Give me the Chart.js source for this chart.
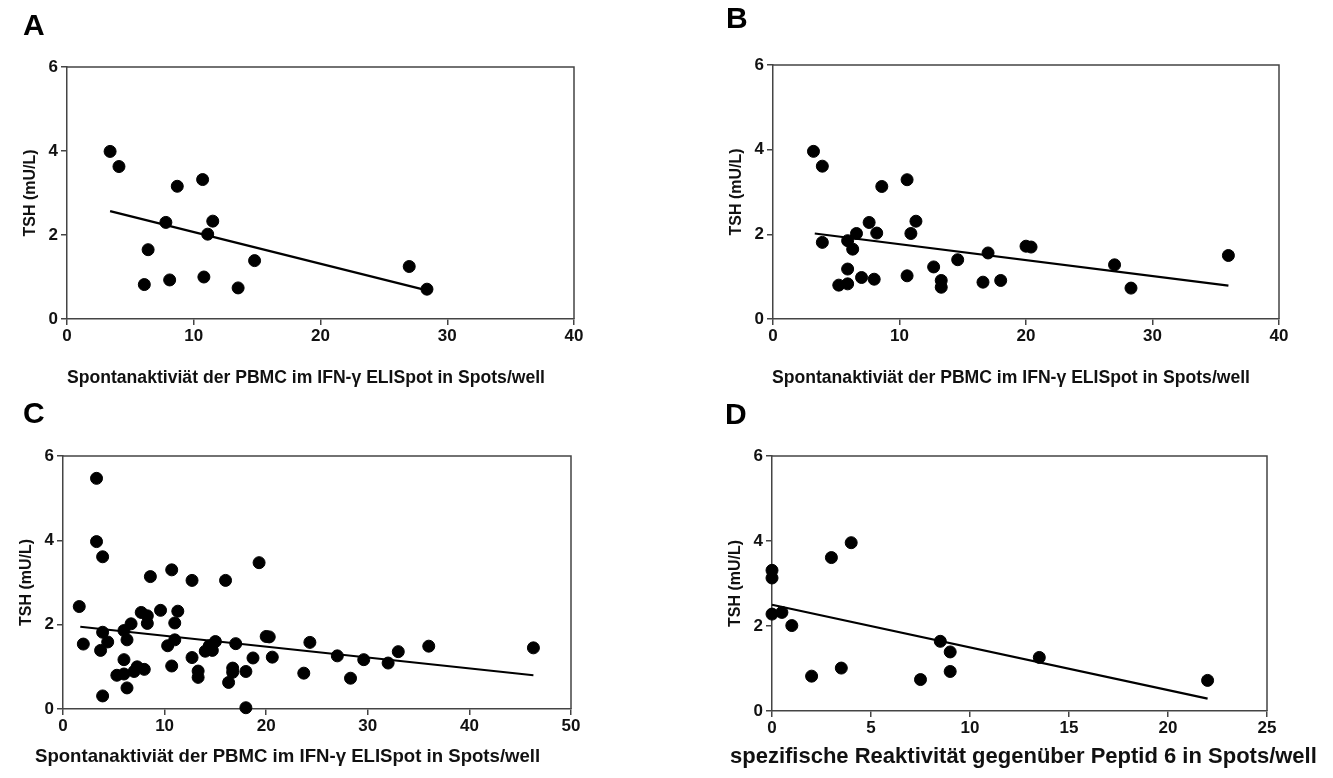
<!DOCTYPE html>
<html>
<head>
<meta charset="utf-8">
<script src="https://cdn.jsdelivr.net/npm/chart.js@4.4.1/dist/chart.umd.min.js"></script>
<style>
  html, body { margin: 0; padding: 0; background: #fff; }
  body { width: 1333px; height: 778px; position: relative; overflow: hidden; }
  canvas { position: absolute; }
</style>
</head>
<body>
<canvas id="chartA" width="666" height="389" style="left:0;top:0"></canvas>
<canvas id="chartB" width="667" height="389" style="left:666px;top:0"></canvas>
<canvas id="chartC" width="666" height="389" style="left:0;top:389px"></canvas>
<canvas id="chartD" width="667" height="389" style="left:666px;top:389px"></canvas>
<script>
// Werte
const yTicks = [0, 2, 4, 6];
const titleSpont = 'Spontanaktiviät der PBMC im IFN-γ ELISpot in Spots/well';
const titlePeptid = 'spezifische Reaktivität gegenüber Peptid 6 in Spots/well';
const yTitle = 'TSH (mU/L)';

// A
const aX = [3.4, 4.1, 8.7, 10.7, 7.8, 11.5, 11.1, 6.4, 6.1, 8.1, 10.8, 13.5, 14.8, 27.0, 28.4];
const aY = [3.99, 3.63, 3.16, 3.32, 2.30, 2.33, 2.02, 1.65, 0.82, 0.93, 1.00, 0.74, 1.39, 1.25, 0.71];
const aFitX = [3.4, 28.4];
const aFitY = [2.57, 0.68];

// B
const bX = [3.2, 3.9, 8.6, 10.6, 7.6, 11.3, 8.2, 10.9, 6.6, 5.9, 3.9, 6.3, 5.9, 5.2, 5.9, 7.0, 8.0, 10.6,
    12.7, 13.3, 13.3, 14.6, 17.0, 16.6, 18.0, 20.0, 20.4, 27.0, 28.3, 36.0];
const bY = [3.96, 3.61, 3.13, 3.29, 2.28, 2.31, 2.03, 2.02, 2.02, 1.85, 1.81, 1.65, 1.18, 0.80, 0.83, 0.98, 0.94, 1.02,
    1.23, 0.91, 0.75, 1.40, 1.56, 0.87, 0.91, 1.72, 1.70, 1.28, 0.73, 1.50];
const bFitX = [3.3, 36.0];
const bFitY = [2.02, 0.79];

// C
const cX = [3.3, 3.3, 3.9, 8.6, 10.7, 12.7, 16.0, 19.3, 1.6, 2.0, 3.7, 3.9, 4.4, 3.9, 6.0, 6.7, 6.3, 6.0, 5.3, 6.0,
    6.3, 7.0, 7.3, 8.0, 7.7, 8.3, 8.3, 9.6, 10.3, 11.0, 11.0, 10.7, 11.3, 12.7, 13.3, 13.3, 14.0, 14.7, 14.4, 15.0,
    16.3, 16.7, 16.7, 17.0, 18.0, 18.0, 18.7, 20.0, 20.3, 20.6, 23.7, 24.3, 27.0, 28.3, 29.6, 32.0, 33.0, 36.0, 46.3];
const cY = [5.47, 3.97, 3.61, 3.14, 3.30, 3.05, 3.05, 3.47, 2.43, 1.54, 1.39, 1.82, 1.59, 0.31, 1.86, 2.02, 1.64, 1.17, 0.80, 0.83,
    0.50, 0.89, 1.00, 0.94, 2.29, 2.21, 2.03, 2.34, 1.50, 2.04, 1.64, 1.02, 2.32, 1.22, 0.90, 0.75, 1.37, 1.39, 1.50, 1.60,
    0.63, 0.97, 0.87, 1.55, 0.89, 0.03, 1.21, 1.72, 1.71, 1.23, 0.85, 1.58, 1.26, 0.73, 1.17, 1.09, 1.36, 1.49, 1.45];
const cFitX = [1.7, 46.3];
const cFitY = [1.95, 0.80];

// D
const dX = [0, 0, 0, 0.5, 1.0, 3.0, 4.0, 2.0, 3.5, 7.5, 8.5, 9.0, 9.0, 13.5, 22.0];
const dY = [3.31, 3.13, 2.28, 2.32, 2.01, 3.61, 3.96, 0.82, 1.01, 0.74, 1.64, 1.39, 0.93, 1.26, 0.72];
const dFitX = [0, 22.0];
const dFitY = [2.50, 0.29];

const FONT = '"Liberation Sans", Arial, Helvetica, sans-serif';
const AXIS_COLOR = '#444';

Chart.defaults.font.family = FONT;
Chart.defaults.font.weight = 'bold';
Chart.defaults.color = '#111';

// Rahmen oben/rechts, Buchstabe und x-Titel
const panelPlugin = {
    id: 'panel',
    beforeDatasetsDraw(chart) {
        const { ctx, chartArea: a } = chart;
        ctx.save();
        ctx.strokeStyle = AXIS_COLOR;
        ctx.lineWidth = 1.5;
        ctx.beginPath();
        ctx.moveTo(a.left, a.top);
        ctx.lineTo(a.right, a.top);
        ctx.lineTo(a.right, a.bottom);
        ctx.stroke();
        ctx.restore();
    },
    afterDraw(chart, args, opts) {
        const ctx = chart.ctx;
        ctx.save();
        ctx.fillStyle = '#000';
        ctx.textAlign = 'left';
        ctx.textBaseline = 'alphabetic';
        ctx.font = 'bold 30px ' + FONT;
        ctx.fillText(opts.letter, opts.letterX, opts.letterY);
        // Titelgröße so wählen, dass die Breite wie im Original ist
        ctx.font = 'bold 16px ' + FONT;
        const size = 16 * opts.titleWidth / ctx.measureText(opts.xTitle).width;
        ctx.font = 'bold ' + size.toFixed(1) + 'px ' + FONT;
        ctx.textBaseline = 'middle';
        ctx.fillStyle = '#111';
        ctx.fillText(opts.xTitle, opts.titleX, opts.titleY);
        ctx.restore();
    }
};

function toPoints(xs, ys) {
    return xs.map((x, i) => ({ x: x, y: ys[i] }));
}

function makeChart(id, p) {
    const canvas = document.getElementById(id);
    const W = canvas.width, H = canvas.height;
    const yW = 50, xH = 30;
    return new Chart(canvas.getContext('2d'), {
        type: 'scatter',
        data: {
            datasets: [{
                data: toPoints(p.xs, p.ys),
                backgroundColor: '#000',
                borderColor: '#000',
                pointRadius: 6,
                pointHoverRadius: 6,
                clip: false
            }, {
                type: 'line',
                data: toPoints(p.fitX, p.fitY),
                borderColor: '#000',
                borderWidth: 2.2,
                pointRadius: 0,
                fill: false,
                clip: false
            }]
        },
        options: {
            responsive: false,
            animation: false,
            devicePixelRatio: 1,
            layout: {
                padding: {
                    left: p.area[0] - yW,
                    top: p.area[1],
                    right: W - p.area[2],
                    bottom: H - p.area[3] - xH
                }
            },
            plugins: {
                legend: { display: false },
                tooltip: { enabled: false },
                panel: {
                    letter: p.letter, letterX: p.letterPos[0], letterY: p.letterPos[1],
                    xTitle: p.xTitle, titleX: p.titlePos[0], titleY: p.titlePos[1], titleWidth: p.titleWidth
                }
            },
            scales: {
                x: {
                    type: 'linear',
                    min: 0, max: p.xMax,
                    afterFit: s => { s.height = xH; },
                    ticks: { stepSize: p.xStep, padding: 1, font: { size: 17, weight: 'bold' }, color: '#111' },
                    grid: { display: true, drawOnChartArea: false, drawTicks: true, tickLength: 6, color: AXIS_COLOR, lineWidth: 1.5 },
                    border: { display: true, color: AXIS_COLOR, width: 1.5 }
                },
                y: {
                    type: 'linear',
                    min: 0, max: 6,
                    afterFit: s => { s.width = yW; },
                    afterBuildTicks: s => { s.ticks = yTicks.map(v => ({ value: v })); },
                    ticks: { padding: 3, font: { size: 17, weight: 'bold' }, color: '#111' },
                    grid: { display: true, drawOnChartArea: false, drawTicks: true, tickLength: 6, color: AXIS_COLOR, lineWidth: 1.5 },
                    border: { display: true, color: AXIS_COLOR, width: 1.5 },
                    title: { display: true, text: yTitle, font: { size: 16, weight: 'bold' }, color: '#111', padding: { top: 4, bottom: 0 } }
                }
            }
        },
        plugins: [panelPlugin]
    });
}

makeChart('chartA', {
    xs: aX, ys: aY, fitX: aFitX, fitY: aFitY, xMax: 40, xStep: 10,
    area: [67, 67, 574, 319], letter: 'A', letterPos: [23, 35],
    xTitle: titleSpont, titlePos: [67, 378], titleWidth: 478
});
makeChart('chartB', {
    xs: bX, ys: bY, fitX: bFitX, fitY: bFitY, xMax: 40, xStep: 10,
    area: [107, 65, 613, 319], letter: 'B', letterPos: [60, 28],
    xTitle: titleSpont, titlePos: [106, 378], titleWidth: 478
});
makeChart('chartC', {
    xs: cX, ys: cY, fitX: cFitX, fitY: cFitY, xMax: 50, xStep: 10,
    area: [63, 67, 571, 320], letter: 'C', letterPos: [23, 34],
    xTitle: titleSpont, titlePos: [35, 368], titleWidth: 505
});
makeChart('chartD', {
    xs: dX, ys: dY, fitX: dFitX, fitY: dFitY, xMax: 25, xStep: 5,
    area: [106, 67, 601, 322], letter: 'D', letterPos: [59, 35],
    xTitle: titlePeptid, titlePos: [64, 368], titleWidth: 588
});
</script>
</body>
</html>
